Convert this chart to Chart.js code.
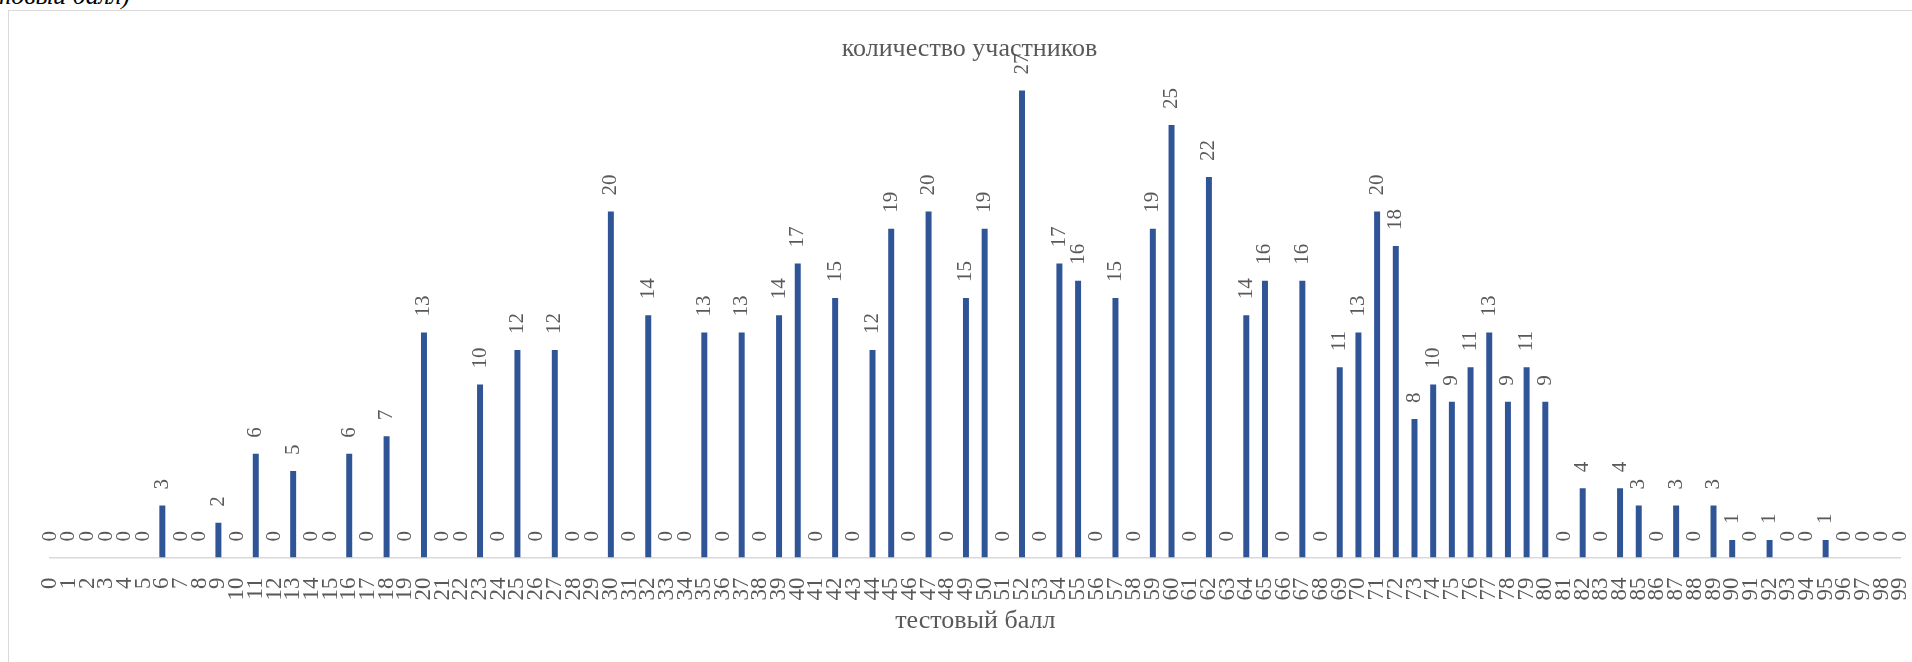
<!DOCTYPE html>
<html lang="ru">
<head>
<meta charset="utf-8">
<title>Распределение участников по тестовым баллам</title>
<script src="https://cdn.jsdelivr.net/npm/chart.js@4.4.1/dist/chart.umd.min.js"></script>
<style>
  html, body { margin: 0; padding: 0; width: 1912px; height: 662px; overflow: hidden; background: #fff; }
  .caption {
    position: absolute; right: 1782px; top: -17px;
    font: italic 26px/26px "Liberation Serif", "Times New Roman", serif;
    color: #000; white-space: nowrap;
  }
  .frame { position: absolute; left: 8px; top: 10px; width: 1960px; height: 720px; border: 1px solid #d9d9d9; }
  #scoreChart { position: absolute; left: 0; top: 0; }
</style>
</head>
<body>
<div class="caption">(первичный балл / тестовый балл)</div>
<div class="frame"></div>
<canvas id="scoreChart" width="1940" height="662"></canvas>
<script>
const FONT = '"Liberation Serif", "Times New Roman", serif';
const TEXT_GREY = '#595959';

// test score (x axis)
const scores = [
  '0', '1', '2', '3', '4', '5', '6', '7', '8', '9',
  '10', '11', '12', '13', '14', '15', '16', '17', '18', '19',
  '20', '21', '22', '23', '24', '25', '26', '27', '28', '29',
  '30', '31', '32', '33', '34', '35', '36', '37', '38', '39',
  '40', '41', '42', '43', '44', '45', '46', '47', '48', '49',
  '50', '51', '52', '53', '54', '55', '56', '57', '58', '59',
  '60', '61', '62', '63', '64', '65', '66', '67', '68', '69',
  '70', '71', '72', '73', '74', '75', '76', '77', '78', '79',
  '80', '81', '82', '83', '84', '85', '86', '87', '88', '89',
  '90', '91', '92', '93', '94', '95', '96', '97', '98', '99'
];

// number of participants per score
const counts = [
  0, 0, 0, 0, 0, 0, 3, 0, 0, 2,
  0, 6, 0, 5, 0, 0, 6, 0, 7, 0,
  13, 0, 0, 10, 0, 12, 0, 12, 0, 0,
  20, 0, 14, 0, 0, 13, 0, 13, 0, 14,
  17, 0, 15, 0, 12, 19, 0, 20, 0, 15,
  19, 0, 27, 0, 17, 16, 0, 15, 0, 19,
  25, 0, 22, 0, 14, 16, 0, 16, 0, 11,
  13, 20, 18, 8, 10, 9, 11, 13, 9, 11,
  9, 0, 4, 0, 4, 3, 0, 3, 0, 3,
  1, 0, 1, 0, 0, 1, 0, 0, 0, 0
];

// vertical value labels above every bar
const barValueLabels = {
  id: 'barValueLabels',
  afterDatasetsDraw(chart) {
    const ctx = chart.ctx;
    const meta = chart.getDatasetMeta(0);
    ctx.save();
    ctx.font = '21px ' + FONT;
    ctx.fillStyle = TEXT_GREY;
    ctx.textAlign = 'left';
    ctx.textBaseline = 'middle';
    meta.data.forEach((bar, i) => {
      ctx.save();
      ctx.translate(bar.x, bar.y - 16);
      ctx.rotate(-Math.PI / 2);
      ctx.fillText(String(counts[i]), 0, 0);
      ctx.restore();
    });
    ctx.restore();
  }
};

new Chart(document.getElementById('scoreChart'), {
  type: 'bar',
  data: {
    labels: scores,
    datasets: [{
      data: counts,
      backgroundColor: '#2f5597',
      barPercentage: 0.32,
      categoryPercentage: 1
    }]
  },
  options: {
    responsive: false,
    animation: false,
    layout: { padding: { left: 31, right: 32, top: 0, bottom: 0 } },
    plugins: {
      legend: { display: false },
      tooltip: { enabled: false },
      title: {
        display: true,
        text: 'количество участников',
        color: TEXT_GREY,
        font: { family: FONT, size: 26, weight: 'normal', lineHeight: 1.2 },
        padding: { top: 34, bottom: -26.6 }
      }
    },
    scales: {
      x: {
        offset: false,
        grid: { display: false },
        border: { display: true, color: '#d9d9d9', width: 1.5 },
        ticks: {
          color: TEXT_GREY,
          font: { family: FONT, size: 23 },
          minRotation: 90,
          maxRotation: 90,
          autoSkip: false,
          padding: 12
        },
        title: {
          display: true,
          text: 'тестовый балл',
          color: TEXT_GREY,
          font: { family: FONT, size: 26, weight: 'normal', lineHeight: 1.2 },
          padding: { top: -6.6, bottom: 25 }
        }
      },
      y: {
        min: 0,
        max: 30,
        grid: { display: false },
        border: { display: false },
        ticks: { display: false },
        afterFit(scale) { scale.width = 19.2; }
      }
    }
  },
  plugins: [barValueLabels]
});
</script>
</body>
</html>
